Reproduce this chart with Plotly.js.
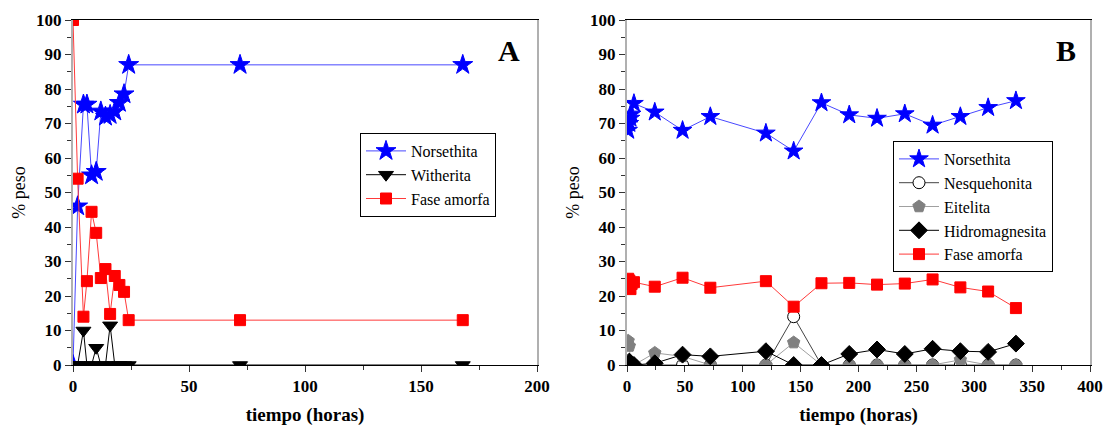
<!DOCTYPE html>
<html>
<head>
<meta charset="utf-8">
<script src="https://cdn.plot.ly/plotly-3.0.1.min.js"></script>
<style>html,body{margin:0;padding:0;background:#fff;}#chart{width:1107px;height:428px;}</style>
</head>
<body>
<div id="chart"></div>
<script>
// Panel A data
const tA   = [0, 2, 4.5, 6, 8, 10, 12, 14, 16, 18, 20, 22, 24, 72, 168];
const norA = [0, 46, 75.5, 75.5, 55, 56, 73.5, 72, 72.5, 73.5, 76, 78.5, 87, 87, 87];
const witA = [0, 0, 10, 0, 0, 5, 0, 0, 11.5, 0, 0, 0, 0, 0, 0];
const amoA = [100, 54, 14, 24.3, 44.4, 38.3, 25.2, 27.8, 14.8, 25.8, 23.2, 21.2, 13, 13, 13];

// Panel B data
const tB   = [1, 2, 3, 4, 6, 24, 48, 72, 120, 144, 168, 192, 216, 240, 264, 288, 312, 336];
const norB = [68, 70, 71.5, 72.7, 75.8, 73.3, 68, 72, 67.2, 62, 76, 72.5, 71.5, 72.8, 69.5, 72, 74.6, 76.6];
const nesB = [0, 0, 0, 0, 0, 0, 0, 0, 0, 14, 0, 0, 0, 0, 0, 0, 0, 0];
const eitB = [7, 5.5, 0, 0, 0, 3.5, 2.5, 0, 0, 6.5, 0, 0, 0, 0, 0, 1.5, 0, 0];
const hidB = [0, 1, 0.5, 0, 0, 0.5, 3, 2.5, 4, 0, 0, 3.2, 4.5, 3.2, 4.7, 4, 3.8, 6.2];
const amoB = [25, 24.5, 22, 23.5, 24, 22.7, 25.3, 22.4, 24.3, 16.9, 23.7, 23.8, 23.3, 23.6, 24.8, 22.5, 21.3, 16.5];

const serif = "Liberation Serif";

function tr(x, y, name, color, lineColor, symbol, size, xa, ya, legend, mline) {
  return {
    x: x, y: y, name: name, type: 'scatter', mode: 'lines+markers',
    xaxis: xa, yaxis: ya, legend: legend,
    line: {color: lineColor, width: 1},
    marker: {symbol: symbol, size: size, color: color, line: mline || {color: color, width: 1}}
  };
}

const data = [
  tr(tA, norA, 'Norsethita', '#0000ff', '#4848ff', 'star', 15, 'x', 'y', 'legend'),
  tr(tA, witA, 'Witherita', '#000000', '#000000', 'triangle-down', 13, 'x', 'y', 'legend'),
  tr(tA, amoA, 'Fase amorfa', '#ff0000', '#ff3a3a', 'square', 11, 'x', 'y', 'legend'),
  tr(tB, norB, 'Norsethita', '#0000ff', '#4848ff', 'star', 14, 'x2', 'y2', 'legend2'),
  tr(tB, nesB, 'Nesquehonita', '#ffffff', '#444444', 'circle', 12, 'x2', 'y2', 'legend2', {color: '#000000', width: 1}),
  tr(tB, eitB, 'Eitelita', '#808080', '#a0a0a0', 'pentagon', 13, 'x2', 'y2', 'legend2'),
  tr(tB, hidB, 'Hidromagnesita', '#000000', '#000000', 'diamond', 13, 'x2', 'y2', 'legend2'),
  tr(tB, amoB, 'Fase amorfa', '#ff0000', '#ff3a3a', 'square', 11, 'x2', 'y2', 'legend2')
];

function xax(domain, range, anchor) {
  return {
    domain: domain, range: range, anchor: anchor, dtick: 50, tick0: 0,
    showline: true, linecolor: '#000', linewidth: 1, mirror: true,
    ticks: 'outside', ticklen: 6, tickcolor: '#333',
    minor: {dtick: 25, ticks: 'outside', ticklen: 4, tickcolor: '#333'},
    showgrid: false, zeroline: false,
    tickfont: {family: serif, size: 17, color: '#000', weight: 700},
    title: {text: '<b>tiempo (horas)</b>', font: {family: serif, size: 19, color: '#000'}, standoff: 12}
  };
}
function yax(domain, anchor) {
  return {
    domain: domain, range: [0, 100], anchor: anchor, dtick: 10, tick0: 0,
    showline: true, linecolor: '#b0b0b0', linewidth: 2, mirror: true,
    ticks: 'outside', ticklen: 6, tickcolor: '#333',
    minor: {dtick: 5, ticks: 'outside', ticklen: 4, tickcolor: '#333'},
    showgrid: false, zeroline: false,
    tickfont: {family: serif, size: 17, color: '#000', weight: 700},
    title: {text: '% peso', font: {family: serif, size: 18, color: '#000'}, standoff: 6}
  };
}

const yDom = [1 - 365 / 428, 1 - 20 / 428];
const legendStyle = {
  xanchor: 'left', yanchor: 'top',
  bgcolor: '#fff', bordercolor: '#000', borderwidth: 1,
  font: {family: serif, size: 16, color: '#000'}, tracegroupgap: 0, itemwidth: 40
};
const layout = {
  width: 1107, height: 428,
  margin: {l: 0, r: 0, t: 0, b: 0},
  paper_bgcolor: '#fff', plot_bgcolor: '#fff',
  font: {family: serif, color: '#000'},
  xaxis: xax([73 / 1107, 537 / 1107], [0, 200], 'y'),
  yaxis: yax(yDom, 'x'),
  xaxis2: xax([627 / 1107, 1090 / 1107], [0, 400], 'y2'),
  yaxis2: yax(yDom, 'x2'),
  legend: Object.assign({x: 360 / 1107, y: 1 - 133 / 428}, legendStyle),
  legend2: Object.assign({x: 893 / 1107, y: 1 - 141 / 428}, legendStyle),
  annotations: [
    {text: '<b>A</b>', xref: 'paper', yref: 'paper', x: 522 / 1107, y: 1 - 51 / 428,
     xanchor: 'right', yanchor: 'middle', showarrow: false, font: {family: serif, size: 30, color: '#000'}},
    {text: '<b>B</b>', xref: 'paper', yref: 'paper', x: 1078 / 1107, y: 1 - 51 / 428,
     xanchor: 'right', yanchor: 'middle', showarrow: false, font: {family: serif, size: 30, color: '#000'}}
  ],
  showlegend: true
};

Plotly.newPlot('chart', data, layout, {displayModeBar: false, staticPlot: true});
</script>
</body>
</html>
